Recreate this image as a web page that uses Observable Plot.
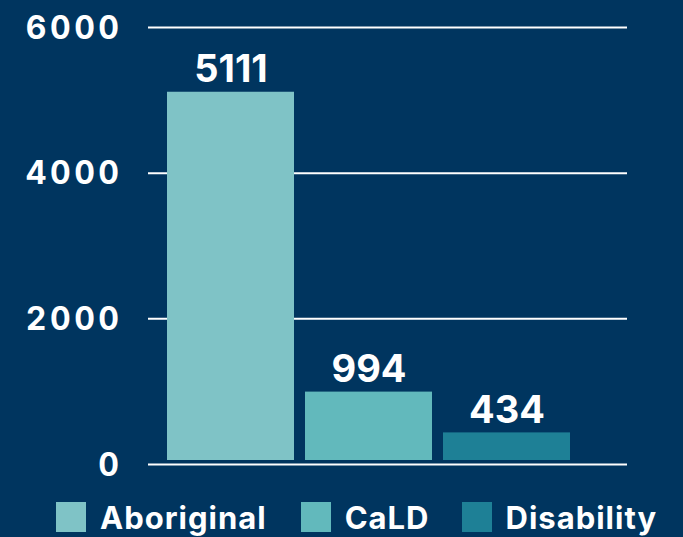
<!DOCTYPE html>
<html><head><meta charset="utf-8">
<script src="https://cdn.jsdelivr.net/npm/d3@7"></script>
<script src="https://cdn.jsdelivr.net/npm/@observablehq/plot@0.6"></script>
<style>
html,body{margin:0;padding:0;background:#00355f;}
#chart{width:683px;height:537px;background:#00355f;overflow:hidden;}
#chart svg{display:block;}
.ytick text{letter-spacing:3.5px;}
.legend{display:flex;align-items:center;padding-left:56px;margin-top:12px;height:30px;font-family:Inter,sans-serif;font-weight:700;font-size:31px;color:#fff;letter-spacing:1px;}
.legend .item{display:flex;align-items:center;}
.legend .sw{width:30px;height:30px;margin-right:14px;}
</style></head><body><div id="chart"></div><script>
const categories = ["Aboriginal", "CaLD", "Disability"];
const values = [5111, 994, 434];
const colors = ["#7fc3c6", "#62b9bc", "#1e8096"];
const yTicks = [0, 2000, 4000, 6000];

const data = categories.map((c, i) => ({category: c, value: values[i]}));

const plot = Plot.plot({
  width: 683, height: 490,
  marginLeft: 148, marginRight: 56, marginTop: 27, marginBottom: 26,
  style: {background: "#00355f", color: "#fff", fontFamily: "Inter, sans-serif", overflow: "visible"},
  x: {domain: categories, range: [166, 570], paddingInner: 0.083, paddingOuter: 0, axis: null},
  y: {domain: [0, 6000], label: null},
  color: {domain: categories, range: colors},
  marks: [
    Plot.ruleY(yTicks, {stroke: "#fff", strokeWidth: 2}),
    Plot.barY(data, {x: "category", y: "value", fill: "category", insetBottom: 4}),
    Plot.text(data, {x: "category", y: "value", text: d => String(d.value), dy: -10, lineAnchor: "bottom", fill: "#fff", fontSize: 38, fontWeight: 700}),
    Plot.axisY(yTicks, {tickSize: 0, tickPadding: 26, fontSize: 32, fontWeight: 700, fill: "#fff", dy: 1, className: "ytick", tickFormat: d => String(d)})
  ]
});
document.getElementById("chart").appendChild(plot);

const legend = document.createElement("div");
legend.className = "legend";
const gaps = [34, 32, 0];
categories.forEach((c, i) => {
  const item = document.createElement("div");
  item.className = "item";
  item.style.marginRight = gaps[i] + "px";
  const sw = document.createElement("div");
  sw.className = "sw";
  sw.style.background = colors[i];
  const lab = document.createElement("span");
  lab.textContent = c;
  item.appendChild(sw);
  item.appendChild(lab);
  legend.appendChild(item);
});
document.getElementById("chart").appendChild(legend);
</script></body></html>
